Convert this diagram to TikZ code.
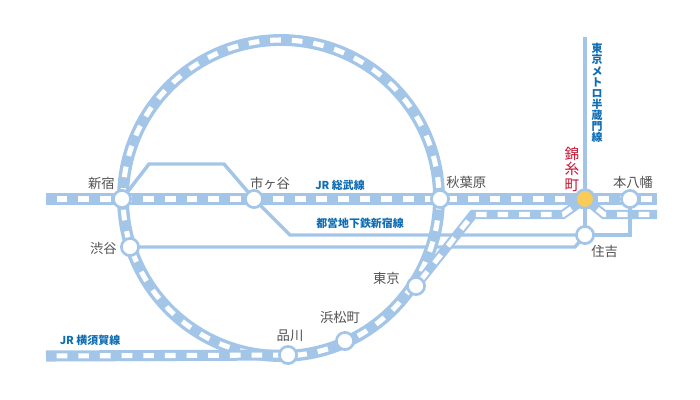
\documentclass[tikz,border=0pt]{standalone}
\usepackage{fontspec}
\setmainfont{Noto Sans CJK JP}
\usetikzlibrary{backgrounds}
\usepackage{xcolor}
\definecolor{linecol}{HTML}{A3C6E8}
\definecolor{namecol}{HTML}{0F6DB4}
\definecolor{stncol}{HTML}{505050}
\definecolor{hicol}{HTML}{C8102E}
\definecolor{hifill}{HTML}{FBCB5A}
\begin{document}
\begin{tikzpicture}[x=0.75pt,y=-0.75pt,
  railband/.style={draw=linecol, line width=8.3pt},
  ringband/.style={draw=linecol, line width=8.9pt},
  rapidband/.style={draw=linecol, line width=6.9pt, line join=miter},
  raildash/.style={draw=white, line width=3.8pt, dash pattern=on 8pt off 8.24pt},
  thinline/.style={draw=linecol, line width=2.6pt, line join=miter},
  stn/.style={circle, draw=linecol, fill=white, line width=2pt, minimum size=12.9pt, inner sep=0pt},
  stnlabel/.style={font=\fontsize{10}{11}\selectfont, text=stncol, inner sep=0pt},
  linelabel/.style={font=\fontsize{8.2}{8.3}\selectfont\bfseries, text=namecol, inner sep=0pt}
]
  \useasboundingbox (0,0) rectangle (700,400);

  % stations
  \node[stn] (shinjuku) at (122,199) {};
  \node[stn] (ichigaya) at (254,199) {};
  \node[stn] (akihabara) at (440,199) {};
  \node[stn] (shibuya) at (130,247) {};
  \node[stn] (tokyo) at (416,286) {};
  \node[stn] (hamamatsucho) at (345,341) {};
  \node[stn] (shinagawa) at (288,355) {};
  \node[stn] (sumiyoshi) at (585,235) {};
  \node[stn] (motoyawata) at (630,199) {};
  \node[stn, fill=hifill, minimum size=14pt] (kinshicho) at (585,199) {};

  % free ends and bends
  \coordinate (ringC) at (281,198);
  \coordinate (sobuL) at (46,199);
  \coordinate (sobuR) at (657,199);
  \coordinate (rapidA) at (473,214.5);
  \coordinate (rapidB) at (563,214.5);
  \coordinate (rapidC) at (604,214.5);
  \coordinate (rapidR) at (657,214.5);
  \coordinate (yokosukaL) at (46,356);
  \coordinate (hanzoT) at (585,37);

  \begin{scope}[on background layer]
    % thin lines
    \draw[thinline] (shinjuku.center) -- (149,164) -- (224,164) -- (ichigaya.center) -- (290,235) -- (sumiyoshi.center);
    \draw[thinline] (sumiyoshi.center) -- (630,235) -- (motoyawata.center);
    \draw[thinline] (shibuya.center) -- (575,247) -- (sumiyoshi.center);
    \draw[thinline] (hanzoT) -- (sumiyoshi.center);

    % ring, dashes in two runs
    \draw[ringband] (ringC) circle[radius=158];
    \draw[raildash, dash phase=5.16pt] (ringC) ++(88:158) arc[start angle=88, end angle=393, radius=158];
    \draw[raildash, dash phase=15.3pt] (ringC) ++(33:158) arc[start angle=33, end angle=88, radius=158];

    % Sobu
    \draw[railband] (sobuL) -- (sobuR);
    \draw[raildash, dash phase=8.25pt] (sobuL) -- (sobuR);

    % rapid and Yokosuka
    \draw[rapidband] (tokyo.center) -- (rapidA) -- (rapidB) -- (kinshicho.center) -- (rapidC) -- (rapidR);
    \draw[raildash, dash phase=10.46pt] (tokyo.center) -- (rapidA) -- (rapidB) -- (kinshicho.center) -- (rapidC) -- (rapidR);
    \draw[railband] (yokosukaL) -- (shinagawa.center);
    \draw[raildash, dash phase=8.25pt] (yokosukaL) -- (shinagawa.center);
  \end{scope}

  % station names
  \node[stnlabel, anchor=east] at (115,183) {新宿};
  \node[stnlabel] at (270,183) {市ヶ谷};
  \node[stnlabel, anchor=west] at (446,182) {秋葉原};
  \node[stnlabel, anchor=east] at (117,248) {渋谷};
  \node[stnlabel, anchor=east] at (400,278) {東京};
  \node[stnlabel] at (340,317) {浜松町};
  \node[stnlabel] at (290,336) {品川};
  \node[stnlabel, anchor=west] at (591,251) {住吉};
  \node[stnlabel] at (633,182) {本八幡};
  \node[stnlabel, text=hicol, align=center, font=\fontsize{11}{11.7}\selectfont] at (572,169) {錦\\糸\\町};

  % line names
  \node[linelabel] at (340,185) {JR 総武線};
  \node[linelabel] at (360,223) {都営地下鉄新宿線};
  \node[linelabel] at (90,340) {JR 横須賀線};
  \node[linelabel, align=center] at (597,93) {東\\京\\メ\\ト\\ロ\\半\\蔵\\門\\線};
\end{tikzpicture}
\end{document}
